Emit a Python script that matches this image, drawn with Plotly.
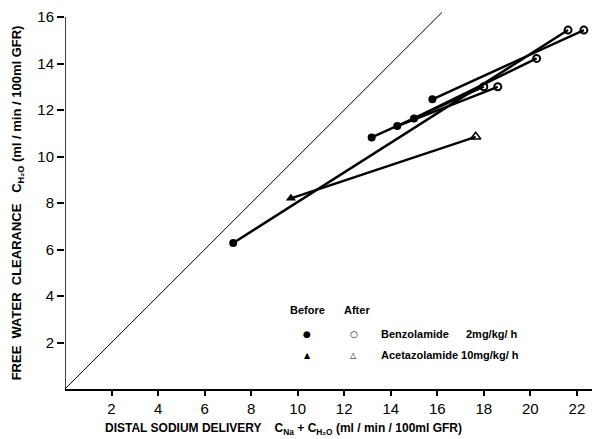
import plotly.graph_objects as go

# Benzolamide pairs (before -> after)
benz_before_x = [7.23, 15.79, 15.0, 13.18, 14.28]
benz_before_y = [6.28, 12.46, 11.64, 10.82, 11.31]
benz_after_x = [21.62, 22.3, 20.27, 18.0, 18.6]
benz_after_y = [15.44, 15.44, 14.22, 13.0, 13.0]

# Acetazolamide pair (before -> after)
acet_before_x = [9.71]
acet_before_y = [8.2]
acet_after_x = [17.65]
acet_after_y = [10.85]

# identity line endpoints
ident_x = [0, 16.2]
ident_y = [0, 16.2]

x_ticks = [2, 4, 6, 8, 10, 12, 14, 16, 18, 20, 22]
y_ticks = [2, 4, 6, 8, 10, 12, 14, 16]

FONT = "Liberation Sans"
fig = go.Figure()

fig.add_trace(go.Scatter(x=ident_x, y=ident_y, mode="lines",
                         line=dict(color="black", width=1), showlegend=False,
                         hoverinfo="skip"))

# connecting lines
for bx, by, ax, ay in zip(benz_before_x + acet_before_x, benz_before_y + acet_before_y,
                          benz_after_x + acet_after_x, benz_after_y + acet_after_y):
    fig.add_trace(go.Scatter(x=[bx, ax], y=[by, ay], mode="lines",
                             line=dict(color="black", width=2.4), showlegend=False))

fig.add_trace(go.Scatter(x=benz_before_x, y=benz_before_y, mode="markers",
                         marker=dict(symbol="circle", size=8, color="black"),
                         showlegend=False, cliponaxis=False))
fig.add_trace(go.Scatter(x=benz_after_x, y=benz_after_y, mode="markers",
                         marker=dict(symbol="circle-open", size=7, color="black",
                                     line=dict(width=2)),
                         showlegend=False, cliponaxis=False))
fig.add_trace(go.Scatter(x=acet_before_x, y=acet_before_y, mode="markers",
                         marker=dict(symbol="triangle-up", size=9, color="black"),
                         showlegend=False, cliponaxis=False))
fig.add_trace(go.Scatter(x=acet_after_x, y=acet_after_y, mode="markers",
                         marker=dict(symbol="triangle-up-open", size=9, color="black",
                                     line=dict(width=1.5)),
                         showlegend=False, cliponaxis=False))

fig.update_xaxes(range=[0, 22.65], tickvals=x_ticks, ticktext=[str(v) for v in x_ticks],
                 showgrid=False, zeroline=False, showline=True, linecolor="black",
                 linewidth=1.5, ticks="outside", ticklen=5, tickwidth=1.5,
                 tickcolor="black", tickfont=dict(family=FONT, size=15, color="black"))
fig.update_yaxes(range=[0, 16.69], tickvals=y_ticks, ticktext=[str(v) for v in y_ticks],
                 showgrid=False, zeroline=False, showline=False,
                 ticks="outside", ticklen=7, tickwidth=1.5, tickcolor="black",
                 tickfont=dict(family=FONT, size=15, color="black"))

# y axis line only up to 16
fig.add_shape(type="line", xref="x", yref="y", x0=0, x1=0, y0=0, y1=16,
              line=dict(color="black", width=1.5))

tf = dict(family=FONT, size=12, color="black", weight="bold")
yf = dict(family=FONT, size=13, color="black", weight="bold")
lf = dict(family=FONT, size=11, color="black", weight="bold")
annotations = [
    dict(text="DISTAL SODIUM DELIVERY    C<sub>Na</sub> + C<sub>H₂O</sub> (ml / min / 100ml GFR)",
         xref="paper", yref="paper", x=0.415, y=-0.103, showarrow=False,
         xanchor="center", yanchor="middle", font=tf),
    dict(text="FREE  WATER  CLEARANCE   C<sub>H₂O</sub> (ml / min / 100ml GFR)",
         xref="paper", yref="paper", x=-0.09, y=0.48, showarrow=False, textangle=-90,
         xanchor="center", yanchor="middle", font=yf),
    dict(text="Before", x=9.6, y=3.4, showarrow=False, xanchor="left", font=lf),
    dict(text="After", x=11.9, y=3.4, showarrow=False, xanchor="left", font=lf),
    dict(text="●", x=10.41, y=2.37, showarrow=False, font=dict(family="DejaVu Sans", size=9, color="black")),
    dict(text="○", x=12.42, y=2.37, showarrow=False, font=dict(family="DejaVu Sans", size=9, color="black")),
    dict(text="▲", x=10.41, y=1.46, showarrow=False, font=dict(family="DejaVu Sans", size=8, color="black")),
    dict(text="△", x=12.42, y=1.46, showarrow=False, font=dict(family="DejaVu Sans", size=8, color="black")),
    dict(text="Benzolamide", x=13.5, y=2.37, showarrow=False, xanchor="left", font=lf),
    dict(text="2mg/kg/ h", x=17.15, y=2.37, showarrow=False, xanchor="left", font=lf),
    dict(text="Acetazolamide 10mg/kg/ h", x=13.5, y=1.46, showarrow=False, xanchor="left", font=lf),
]
fig.update_layout(width=594, height=439, margin=dict(l=65, r=2, t=1, b=50),
                  plot_bgcolor="white", paper_bgcolor="white",
                  annotations=annotations, showlegend=False)

fig.write_html("out.html", config={"displayModeBar": False},
               post_script="document.body.style.margin='0';")
